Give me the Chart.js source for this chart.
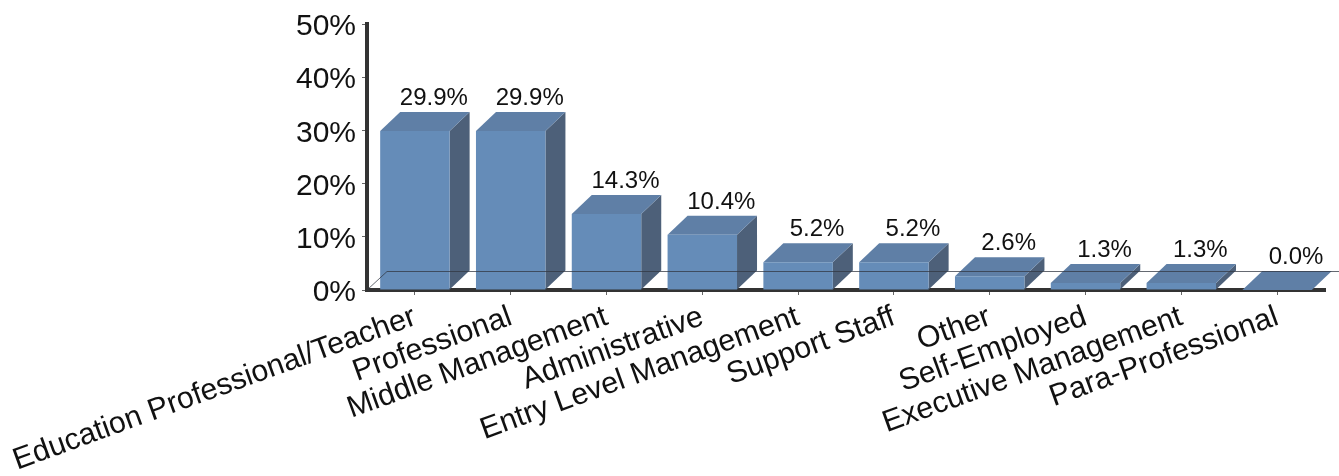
<!DOCTYPE html>
<html>
<head>
<meta charset="utf-8">
<style>html,body{margin:0;padding:0;background:#fff}canvas{display:block}</style>
<script src="https://cdn.jsdelivr.net/npm/chart.js@4"></script>
</head>
<body>
<canvas id="c" width="1339" height="476"></canvas>
<script>
const categories = ["Education Professional/Teacher","Professional","Middle Management","Administrative","Entry Level Management","Support Staff","Other","Self-Employed","Executive Management","Para-Professional"];
const values = [29.9,29.9,14.3,10.4,5.2,5.2,2.6,1.3,1.3,0.0];
const yTicks = [0,10,20,30,40,50];
const DX = 20, DY = 19;

const depth3d = {
  id:'depth3d',
  beforeDraw(chart){
    chart.scales.y.getLabelItems().forEach(it=>{
      if(!it._moved){ it.options.translation[1] += 3; it._moved = true; }
    });
  },
  beforeDatasetsDraw(chart){
    const ctx = chart.ctx, els = chart.getDatasetMeta(0).data;
    ctx.save();
    els.forEach(b=>{
      const l = b.x - b.width/2, r = b.x + b.width/2, t = b.y, bt = b.base;
      ctx.fillStyle = '#4d6079';
      ctx.beginPath(); ctx.moveTo(r,t); ctx.lineTo(r+DX,t-DY); ctx.lineTo(r+DX,bt-DY); ctx.lineTo(r,bt); ctx.closePath(); ctx.fill();
      ctx.fillStyle = '#5f7fa6';
      ctx.beginPath(); ctx.moveTo(l,t); ctx.lineTo(l+DX,t-DY); ctx.lineTo(r+DX,t-DY); ctx.lineTo(r,t); ctx.closePath(); ctx.fill();
    });
    ctx.restore();
  },
  afterDatasetsDraw(chart){
    const ctx = chart.ctx, els = chart.getDatasetMeta(0).data, a = chart.chartArea;
    ctx.save();
    ctx.strokeStyle = 'rgba(50,55,65,0.75)';
    ctx.lineWidth = 1;
    ctx.beginPath();
    ctx.moveTo(a.left, a.bottom); ctx.lineTo(a.left+DX, a.bottom-DY+0.5); ctx.lineTo(1339, a.bottom-DY+0.5);
    ctx.stroke();
    ctx.fillStyle = '#111';
    ctx.font = '24px "Liberation Sans", Arial, sans-serif';
    ctx.textAlign = 'center';
    ctx.textBaseline = 'alphabetic';
    els.forEach((b,i)=>{
      ctx.fillText(values[i].toFixed(1)+'%', b.x+DX-1, b.y-DY-7);
    });
    ctx.restore();
  }
};

new Chart(document.getElementById('c'),{
  type:'bar',
  data:{labels:categories,datasets:[{data:values,backgroundColor:'#658cb8',categoryPercentage:0.725,barPercentage:1,borderWidth:0}]},
  plugins:[depth3d],
  options:{
    responsive:false,animation:false,
    layout:{padding:{left:0,right:14,top:0,bottom:0}},
    plugins:{legend:{display:false},tooltip:{enabled:false}},
    scales:{
      x:{
        grid:{display:true,drawOnChartArea:false,drawTicks:true,tickLength:5,tickColor:'#666',offset:false},
        border:{display:true,color:'#333',width:4},
        ticks:{autoSkip:false,minRotation:20,maxRotation:20,color:'#111',padding:4,
          font:{family:'"Liberation Sans", Arial, sans-serif',size:30.3}},
        afterFit(s){s.height=186;s.paddingLeft=0;s.paddingRight=0;}
      },
      y:{
        min:0,max:50,
        afterBuildTicks(s){s.ticks=yTicks.map(v=>({value:v}));},
        grid:{display:true,drawOnChartArea:false,drawTicks:true,tickLength:5,tickColor:'#666'},
        border:{display:true,color:'#333',width:4},
        ticks:{color:'#111',padding:6,callback:v=>v+'%',
          font:{family:'"Liberation Sans", Arial, sans-serif',size:30}},
        afterFit(s){s.width=367;}
      }
    }
  }
});
</script>
</body>
</html>
